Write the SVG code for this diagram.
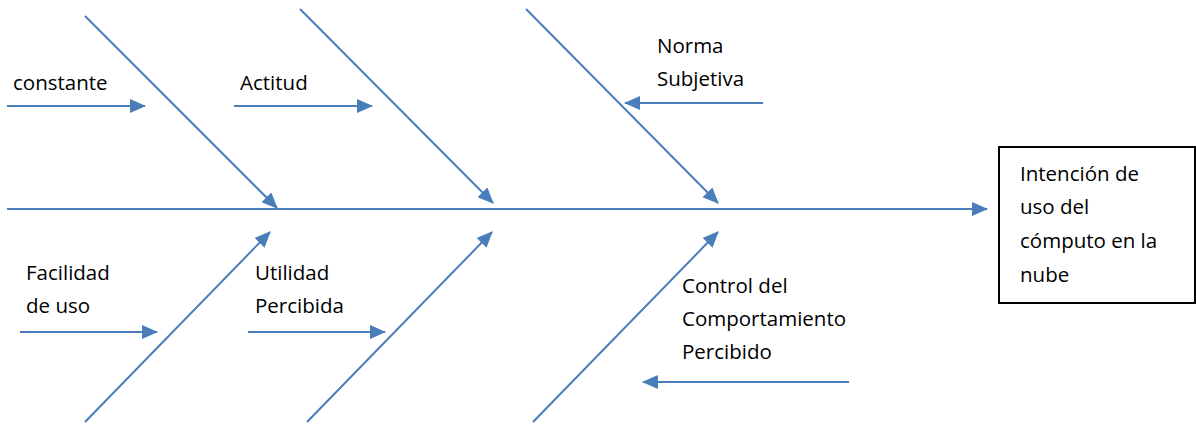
<svg xmlns="http://www.w3.org/2000/svg" width="1196" height="425" viewBox="0 0 1196 425">
  <style>
    .ln { stroke: #4A7EBB; stroke-width: 2; fill: none; }
    .ar { marker-end: url(#ah); }
    text { font-family: "Open Sans", "Liberation Sans", sans-serif; font-size: 20.5px; fill: #000; }
    .box { fill: #fff; stroke: #000; stroke-width: 2; }
  </style>
  <defs>
    <marker id="ah" markerUnits="userSpaceOnUse" markerWidth="16" markerHeight="14" refX="15" refY="7" orient="auto">
      <path d="M0,0 L16,7 L0,14 z" fill="#4A7EBB"/>
    </marker>
  </defs>
  <rect width="1196" height="425" fill="#fff"/>
  <g id="connectors">
    <line class="ln ar" x1="7" y1="209" x2="987" y2="209"/>
    <line class="ln ar" x1="85" y1="16" x2="277" y2="208"/>
    <line class="ln ar" x1="300" y1="9" x2="493" y2="203"/>
    <line class="ln ar" x1="526" y1="9" x2="718" y2="203"/>
    <line class="ln ar" x1="7" y1="106" x2="145" y2="106"/>
    <line class="ln ar" x1="234" y1="106" x2="372" y2="106"/>
    <line class="ln ar" x1="763" y1="103" x2="625" y2="103"/>
    <line class="ln ar" x1="85" y1="422" x2="270" y2="232"/>
    <line class="ln ar" x1="307" y1="422" x2="492" y2="232"/>
    <line class="ln ar" x1="533" y1="422" x2="718" y2="232"/>
    <line class="ln ar" x1="20" y1="332" x2="157" y2="332"/>
    <line class="ln ar" x1="248" y1="332" x2="385" y2="332"/>
    <line class="ln ar" x1="849" y1="382" x2="643" y2="382"/>
  </g>
  <g id="constante"><text x="13" y="90">constante</text></g>
  <g id="actitud"><text x="240" y="90">Actitud</text></g>
  <g id="norma"><text x="657" y="53">Norma</text><text x="657" y="86">Subjetiva</text></g>
  <g id="facilidad"><text x="26" y="280">Facilidad</text><text x="26" y="313">de uso</text></g>
  <g id="utilidad"><text x="255" y="280">Utilidad</text><text x="255" y="313">Percibida</text></g>
  <g id="control"><text x="682" y="293">Control del</text><text x="682" y="326">Comportamiento</text><text x="682" y="359">Percibido</text></g>
  <g id="intencion">
    <rect class="box" x="999" y="147" width="196" height="156"/>
    <text x="1020" y="181">Intención de</text>
    <text x="1020" y="214">uso del</text>
    <text x="1020" y="248">cómputo en la</text>
    <text x="1020" y="282">nube</text>
  </g>
</svg>
